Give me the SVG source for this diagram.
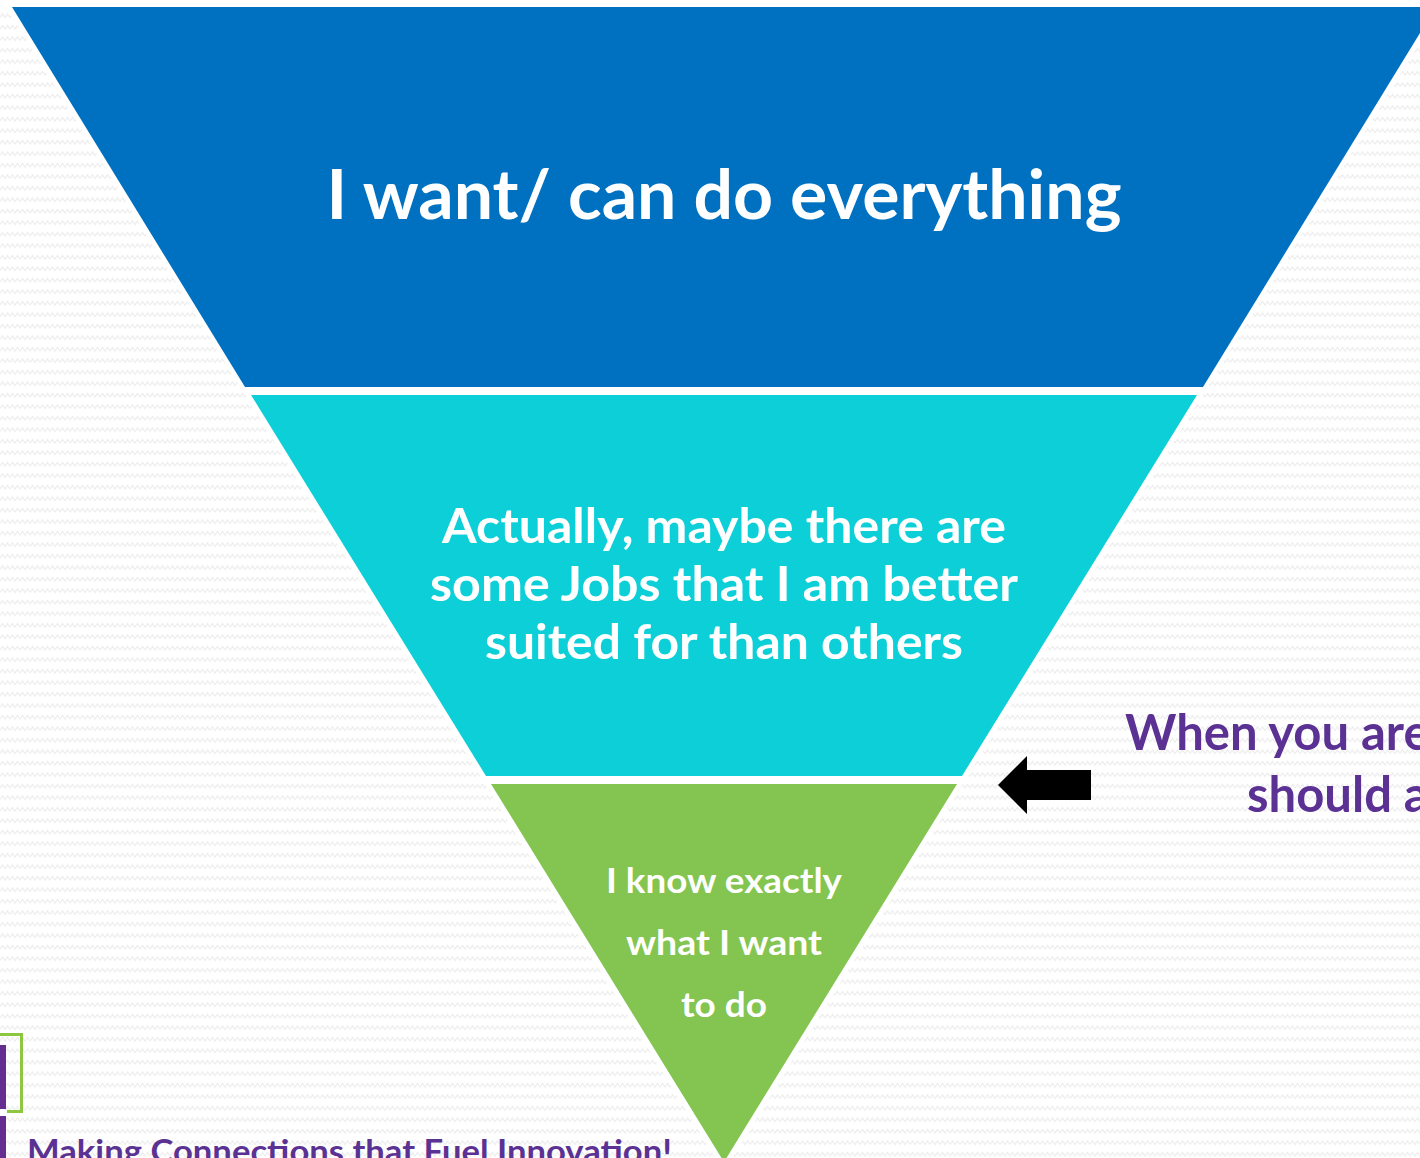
<svg xmlns="http://www.w3.org/2000/svg" width="1420" height="1158" viewBox="0 0 1420 1158">
<defs>
<pattern id="zig" width="10" height="11.5" patternUnits="userSpaceOnUse">
<path d="M0 6 L2.5 2.5 L5 6 L7.5 2.5 L10 6" fill="none" stroke="#ececec" stroke-width="1.2"/>
</pattern>
</defs>
<style>
.t{font-family:Lato,"Open Sans","Liberation Sans",sans-serif;font-weight:bold;fill:#fff;text-anchor:middle}
.p{font-family:Lato,"Open Sans","Liberation Sans",sans-serif;font-weight:bold;fill:#5b3293}
</style>
<rect width="1420" height="1158" fill="#fff"/>
<rect width="1420" height="1158" fill="url(#zig)"/>
<rect width="1420" height="7" fill="#fff"/>
<polygon points="12,7 1436,7 724,1162" fill="#fff" stroke="#fff" stroke-width="10"/>
<g id="level-top">
<polygon points="12,7 1436,7 1203,387 245,387" fill="#0070c0"/>
<text class="t" x="724" y="219" font-size="68" textLength="795" lengthAdjust="spacingAndGlyphs">I want/ can do everything</text>
</g>
<g id="level-middle">
<polygon points="251,395 1197,395 962,776 486,776" fill="#0ccfd8"/>
<text class="t" x="724" y="543" font-size="48" textLength="564" lengthAdjust="spacingAndGlyphs">Actually, maybe there are</text>
<text class="t" x="724" y="601" font-size="48" textLength="588" lengthAdjust="spacingAndGlyphs">some Jobs that I am better</text>
<text class="t" x="724" y="659" font-size="48" textLength="478" lengthAdjust="spacingAndGlyphs">suited for than others</text>
</g>
<g id="level-bottom">
<polygon points="491,784 957,784 724,1162" fill="#83c550"/>
<text class="t" x="724" y="893" font-size="35" textLength="236" lengthAdjust="spacingAndGlyphs">I know exactly</text>
<text class="t" x="724" y="955" font-size="35" textLength="196" lengthAdjust="spacingAndGlyphs">what I want</text>
<text class="t" x="724" y="1017" font-size="35" textLength="86" lengthAdjust="spacingAndGlyphs">to do</text>
</g>
<g id="connectors">
<polygon points="998,785 1027,756 1027,770 1091,770 1091,800 1027,800 1027,814" fill="#000"/>
</g>
<g id="callout">
<text class="p" x="1125" y="750" font-size="49">When you are</text>
<text class="p" x="1247" y="812" font-size="49">should a</text>
</g>
<g id="logo">
<path d="M0 1034.5 H21.5 V1111.5 H7" fill="none" stroke="#8dc63f" stroke-width="3"/>
<rect x="0" y="1045" width="6" height="64" fill="#662d91"/>
<rect x="0" y="1116" width="6" height="42" fill="#662d91"/>
<text class="p" x="27" y="1163" font-size="32" textLength="645" lengthAdjust="spacingAndGlyphs">Making Connections that Fuel Innovation!</text>
</g>
</svg>
